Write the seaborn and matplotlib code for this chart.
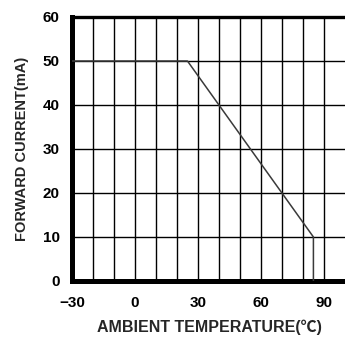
import matplotlib
matplotlib.use("Agg")
import matplotlib.pyplot as plt
import seaborn as sns
import pandas as pd

# Data
temperature = [-30, 25, 85, 85]
forward_current = [50, 50, 10, 0]
x_ticks = [-30, 0, 30, 60, 90]
y_ticks = [0, 10, 20, 30, 40, 50, 60]
x_grid = [-20, -10, 0, 10, 20, 30, 40, 50, 60, 70, 80, 90]
y_grid = [10, 20, 30, 40, 50]

df = pd.DataFrame({"temp": temperature, "current": forward_current})

sns.set_style("white")
plt.rcParams['font.family'] = ['Liberation Sans', 'Noto Sans CJK JP', 'DejaVu Sans']

fig = plt.figure(figsize=(3.45, 3.38), dpi=100)
ax = fig.add_axes([72/345, 57/338, 275/345, 264/338])

for xv in x_grid:
    ax.axvline(xv, color='black', lw=1.0, zorder=1)
for yv in y_grid:
    ax.axhline(yv, color='black', lw=1.0, zorder=1)

sns.lineplot(data=df, x="temp", y="current", sort=False, estimator=None,
             color='#3a3a3a', lw=1.1, ax=ax, zorder=3)

ax.set_xlim(-30, 101)
ax.set_ylim(0, 60)
ax.set_xticks(x_ticks)
ax.set_yticks(y_ticks)
ax.set_xticklabels([("\u2212" + str(-v)) if v < 0 else str(v) for v in x_ticks], fontweight='bold', fontsize=11)
ax.set_yticklabels([str(v) for v in y_ticks], fontweight='bold', fontsize=11)
ax.tick_params(axis='both', length=0, colors='black')
ax.tick_params(axis='x', pad=11)
ax.tick_params(axis='y', pad=9)

ax.spines['left'].set_linewidth(3.6)
ax.spines['bottom'].set_linewidth(3.6)
ax.spines['top'].set_linewidth(2.4)
ax.spines['right'].set_linewidth(2.4)
for s in ax.spines.values():
    s.set_color('black')

ax.set_xlabel("AMBIENT TEMPERATURE(\u2103)", fontsize=11.5, fontweight='bold', labelpad=7)
ax.set_ylabel("FORWARD CURRENT(mA)", fontsize=10.5, fontweight='bold', labelpad=10)

fig.savefig("out.png", dpi=100)
